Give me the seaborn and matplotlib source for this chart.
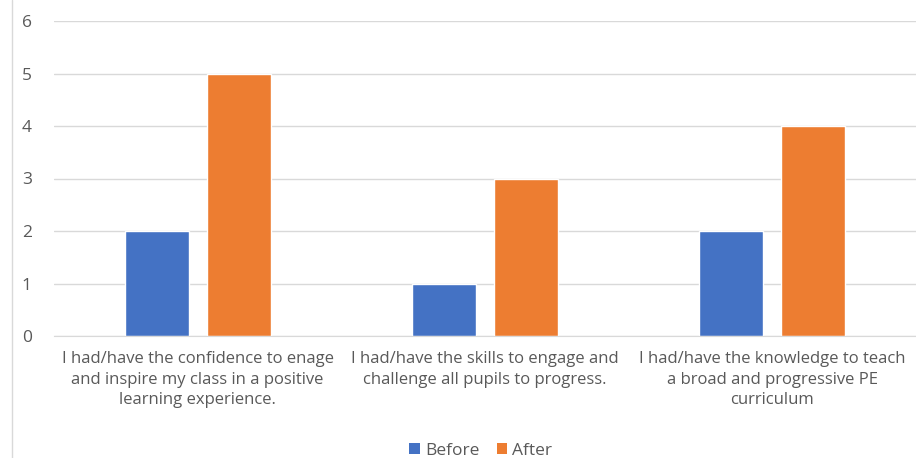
import pandas as pd
import seaborn as sns
import matplotlib.pyplot as plt
from matplotlib.patches import Patch
from matplotlib.lines import Line2D

# Survey statements and scores
statements = [
    "I had/have the confidence to enage\nand inspire my class in a positive\nlearning experience.",
    "I had/have the skills to engage and\nchallenge all pupils to progress.",
    "I had/have the knowledge to teach\na broad and progressive PE\ncurriculum",
]
before = [2, 1, 2]
after = [5, 3, 4]
series = ["Before", "After"]
colors = ["#4472C4", "#ED7D31"]

df = pd.DataFrame({
    "Statement": statements * 2,
    "Score": before + after,
    "Period": ["Before"] * 3 + ["After"] * 3,
})

sns.set_style("white")
plt.rcParams["font.family"] = ["Open Sans", "DejaVu Sans"]
text_col = "#595959"

fig = plt.figure(figsize=(9.16, 4.58), dpi=100)
ax = fig.add_axes([54 / 916, 1 - 336 / 458, 862 / 916, 315 / 458])

sns.barplot(data=df, x="Statement", y="Score", hue="Period", hue_order=series,
            palette=colors, width=0.571, gap=0.22, saturation=1, ax=ax,
            legend=False)

ax.set_ylim(0, 6)
ax.set_yticks(range(7))
ax.set_xlim(-0.5, 2.5)
ax.yaxis.grid(True, color="#D9D9D9", linewidth=1)
ax.set_axisbelow(True)
for s in ["top", "right", "left"]:
    ax.spines[s].set_visible(False)
ax.spines["bottom"].set_color("#D9D9D9")
ax.tick_params(axis="both", length=0, colors=text_col, labelsize=12)
ax.tick_params(axis="y", pad=16, labelsize=12.5)
ax.tick_params(axis="x", pad=11)
for lbl in ax.get_xticklabels():
    lbl.set_linespacing(1.38)
ax.set_xlabel("")
ax.set_ylabel("")

handles = [Patch(facecolor=c, edgecolor="none") for c in colors]
fig.legend(handles, series, loc="center", bbox_to_anchor=(0.525, 7 / 458),
           ncol=2, frameon=False, fontsize=12.5, handlelength=0.6, handleheight=0.6,
           handletextpad=0.3, columnspacing=1.0, labelcolor=text_col)

# chart border fragment on the left
fig.add_artist(Line2D([12 / 916, 12 / 916], [0, 1], color="#D9D9D9", linewidth=1,
                      transform=fig.transFigure))

fig.savefig("out.png", dpi=100)
